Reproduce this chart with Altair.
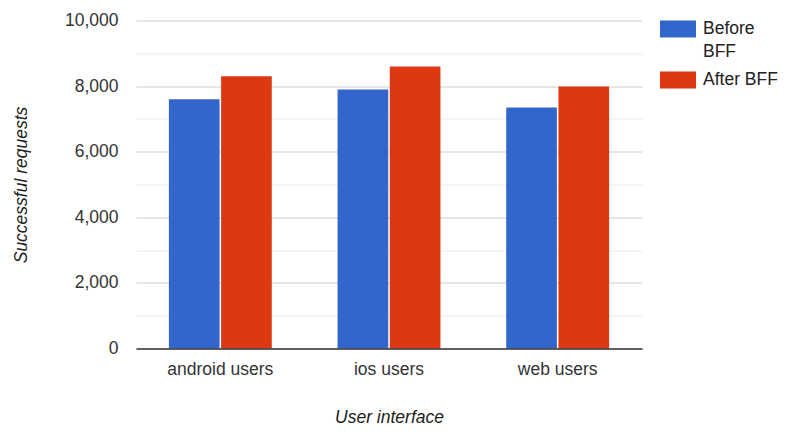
import altair as alt
import pandas as pd

categories = ["android users", "ios users", "web users"]
series = ["Before BFF", "After BFF"]
before_bff = [7600, 7900, 7350]
after_bff = [8300, 8600, 7990]
y_ticks = [0, 1000, 2000, 3000, 4000, 5000, 6000, 7000, 8000, 9000, 10000]
colors = ["#3366cc", "#dc3912"]

rows = []
for i, c in enumerate(categories):
    rows.append({"interface": c, "series": series[0], "requests": before_bff[i]})
    rows.append({"interface": c, "series": series[1], "requests": after_bff[i]})
df = pd.DataFrame(rows)

FONT = "Liberation Sans"
TXT = "#333333"
FS = 17.5
W, H = 506, 328

chart = alt.Chart(df).mark_bar().encode(
    x=alt.X(
        "interface:N", sort=categories, title="User interface",
        scale=alt.Scale(paddingInner=0.39, paddingOuter=0.195),
        axis=alt.Axis(labelAngle=0, ticks=False, domainColor="#333333", domainWidth=1.5,
                      labelPadding=12, titlePadding=30, titleFontStyle="italic",
                      titleFontWeight="normal", zindex=1),
    ),
    xOffset=alt.XOffset("series:N", sort=series, scale=alt.Scale(paddingInner=0.03)),
    y=alt.Y(
        "requests:Q", title="Successful requests",
        scale=alt.Scale(domain=[0, 10000], nice=False),
        axis=alt.Axis(values=y_ticks,
                      labelExpr="datum.value % 2000 === 0 ? datum.label : ''",
                      gridColor={"condition": {"test": "datum.value % 2000 === 0", "value": "#cccccc"},
                                 "value": "#ebebeb"},
                      ticks=False, domain=False, labelPadding=18, titlePadding=34,
                      titleFontStyle="italic", titleFontWeight="normal"),
    ),
    color=alt.Color(
        "series:N", sort=series, title=None,
        scale=alt.Scale(domain=series, range=colors),
        legend=alt.Legend(orient="none", legendX=W + 18, legendY=-9.5, padding=0,
                          symbolType="M-1,-0.47H1V0.47H-1Z", symbolSize=1296,
                          symbolStrokeWidth=0, symbolOpacity=1, rowPadding=1,
                          labelFontSize=FS, labelFont=FONT, labelColor="#222222",
                          labelOffset=7,
                          labelExpr="datum.label == 'Before BFF' ? ['Before', 'BFF'] : datum.label"),
    ),
).properties(
    width=W, height=H,
    padding={"left": 4, "top": 2.5, "right": 0, "bottom": 0},
).configure(
    view={"strokeWidth": 0},
    axis={"labelFont": FONT, "titleFont": FONT, "labelFontSize": FS, "titleFontSize": FS,
          "labelColor": TXT, "titleColor": "#222222"},
    style={"guide-label": {"lineHeight": 23.4}},
)

chart.save("out.html", embed_options={"renderer": "svg", "actions": False})
